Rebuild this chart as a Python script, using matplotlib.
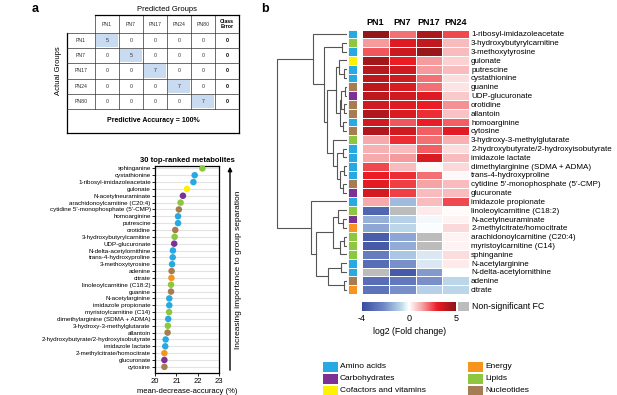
import numpy as np
import matplotlib
matplotlib.use("Agg")
import matplotlib.pyplot as plt
from matplotlib.colors import LinearSegmentedColormap

plt.rcParams['font.family'] = ['Liberation Sans', 'DejaVu Sans']

# ---------------- data ----------------
groups = ['PN1', 'PN7', 'PN17', 'PN24', 'PN80']
confusion = [[5, 0, 0, 0, 0],
             [0, 5, 0, 0, 0],
             [0, 0, 7, 0, 0],
             [0, 0, 0, 7, 0],
             [0, 0, 0, 0, 7]]
class_error = [0, 0, 0, 0, 0]
accuracy = 100

cat_colors = {'Amino acids': '#27aae1', 'Carbohydrates': '#7b3294',
              'Cofactors and vitamins': '#fff200', 'Energy': '#f7941d',
              'Lipids': '#8dc63f', 'Nucleotides': '#a67c52'}

category = {
    '1-ribosyl-imidazoleacetate': 'Amino acids', '3-hydroxybutyrylcarnitine': 'Lipids',
    '3-methoxytyrosine': 'Amino acids', 'gulonate': 'Cofactors and vitamins',
    'putrescine': 'Amino acids', 'cystathionine': 'Amino acids', 'guanine': 'Nucleotides',
    'UDP-glucuronate': 'Carbohydrates', 'orotidine': 'Nucleotides', 'allantoin': 'Nucleotides',
    'homoarginine': 'Amino acids', 'cytosine': 'Nucleotides',
    '3-hydroxy-3-methylglutarate': 'Lipids',
    '2-hydroxybutyrate/2-hydroxyisobutyrate': 'Amino acids',
    'imidazole lactate': 'Amino acids', 'dimethylarginine (SDMA + ADMA)': 'Amino acids',
    'trans-4-hydroxyproline': 'Amino acids',
    "cytidine 5'-monophosphate (5'-CMP)": 'Nucleotides', 'glucuronate': 'Carbohydrates',
    'imidazole propionate': 'Amino acids', 'linoleoylcarnitine (C18:2)': 'Lipids',
    'N-acetylneuraminate': 'Carbohydrates', '2-methylcitrate/homocitrate': 'Energy',
    'arachidonoylcarnitine (C20:4)': 'Lipids', 'myristoylcarnitine (C14)': 'Lipids',
    'sphinganine': 'Lipids', 'N-acetylarginine': 'Amino acids',
    'N-delta-acetylornithine': 'Amino acids', 'adenine': 'Nucleotides', 'citrate': 'Energy'}

# random forest ranking (mean decrease accuracy, %)
rank_names = ['sphinganine', 'cystathionine', '1-ribosyl-imidazoleacetate', 'gulonate',
              'N-acetylneuraminate', 'arachidonoylcarnitine (C20:4)',
              "cytidine 5'-monophosphate (5'-CMP)", 'homoarginine', 'putrescine', 'orotidine',
              '3-hydroxybutyrylcarnitine', 'UDP-glucuronate', 'N-delta-acetylornithine',
              'trans-4-hydroxyproline', '3-methoxytyrosine', 'adenine', 'citrate',
              'linoleoylcarnitine (C18:2)', 'guanine', 'N-acetylarginine',
              'imidazole propionate', 'myristoylcarnitine (C14)',
              'dimethylarginine (SDMA + ADMA)', '3-hydroxy-3-methylglutarate', 'allantoin',
              '2-hydroxybutyrate/2-hydroxyisobutyrate', 'imidazole lactate',
              '2-methylcitrate/homocitrate', 'glucuronate', 'cytosine']
mda = [22.22, 21.86, 21.80, 21.50, 21.31, 21.20, 21.12, 21.08, 21.08, 20.95,
       20.92, 20.90, 20.84, 20.83, 20.80, 20.78, 20.77, 20.75, 20.75, 20.67,
       20.67, 20.66, 20.62, 20.60, 20.59, 20.50, 20.48, 20.44, 20.44, 20.44]

# heatmap (log2 fold change vs PN80, nan = non-significant)
hm_cols = ['PN1', 'PN7', 'PN17', 'PN24']
hm_rows = ['1-ribosyl-imidazoleacetate', '3-hydroxybutyrylcarnitine', '3-methoxytyrosine',
           'gulonate', 'putrescine', 'cystathionine', 'guanine', 'UDP-glucuronate',
           'orotidine', 'allantoin', 'homoarginine', 'cytosine',
           '3-hydroxy-3-methylglutarate', '2-hydroxybutyrate/2-hydroxyisobutyrate',
           'imidazole lactate', 'dimethylarginine (SDMA + ADMA)', 'trans-4-hydroxyproline',
           "cytidine 5'-monophosphate (5'-CMP)", 'glucuronate', 'imidazole propionate',
           'linoleoylcarnitine (C18:2)', 'N-acetylneuraminate', '2-methylcitrate/homocitrate',
           'arachidonoylcarnitine (C20:4)', 'myristoylcarnitine (C14)', 'sphinganine',
           'N-acetylarginine', 'N-delta-acetylornithine', 'adenine', 'citrate']
nan = np.nan
fc = [[4.8, 2.0, 4.3, 2.5],
      [1.5, 3.3, 3.9, 1.0],
      [2.3, 3.7, 4.7, 1.0],
      [4.5, 3.0, 1.5, 0.7],
      [4.1, 3.6, 1.5, 1.0],
      [4.0, 3.6, 2.0, 0.5],
      [4.0, 3.4, 2.0, 0.4],
      [4.0, 3.6, 3.3, 0.8],
      [3.6, 3.3, 3.0, 1.6],
      [4.2, 3.4, 2.8, 0.9],
      [3.6, 2.3, 3.0, 2.2],
      [4.2, 3.6, 2.2, 3.2],
      [1.3, 2.8, 2.0, 1.2],
      [1.2, 1.0, 2.2, 0.5],
      [1.3, 1.5, 3.4, 1.0],
      [2.5, 1.0, 0.1, 0.6],
      [3.0, 2.8, 2.0, 0.1],
      [3.2, 2.6, 1.4, 1.0],
      [3.5, 2.6, 1.0, 1.0],
      [1.3, -1.2, 1.0, 2.5],
      [-3.2, nan, 0.3, 0.05],
      [-1.4, -0.8, -0.1, 0.2],
      [-1.6, -0.7, -0.05, 0.6],
      [-3.5, -1.6, nan, 0.2],
      [-3.6, -1.5, nan, 0.2],
      [-2.5, -1.0, -0.4, 0.5],
      [-3.0, -2.0, -0.4, 0.3],
      [nan, -3.6, -1.8, 0.0],
      [-3.0, -2.6, -2.0, -0.7],
      [-2.8, -2.0, -0.8, -0.7]]

# row dendrogram: [left, right, merge height], leaves = row index
tree = [[0, [[1, 2, 5],
             [[[3, [4, 5, 3], 8], [[[6, 7, 2], [8, 9, 3], 6], [10, 11, 4], 7.5], 11],
              [12, [[13, 14, 4], [[15, 16, 3], [17, 18, 4], 7], 10], 14], 20], 23], 34],
        [19, [[[20, [21, 22, 4], 9], [[23, 24, 3], 25, 7], 14],
              [[26, 27, 6], [28, 29, 3], 19], 31], 36], 70]

# ---------------- figure ----------------
W, H = 617, 395
fig = plt.figure(figsize=(W / 100, H / 100), dpi=100)


def px(x0, y0, x1, y1):
    return [x0 / W, 1 - y1 / H, (x1 - x0) / W, (y1 - y0) / H]


ov = fig.add_axes([0, 0, 1, 1])
ov.set_xlim(0, W)
ov.set_ylim(H, 0)
ov.axis('off')

ov.text(35, 9, 'a', fontsize=9, fontweight='bold', ha='center', va='center')
ov.text(265, 9, 'b', fontsize=9, fontweight='bold', ha='center', va='center')

# ---- confusion table ----
tx0, lab_w, cw = 67, 28, 24
ty0, head_h, rh, acc_h = 15, 18, 15.2, 24
col_x = [tx0 + lab_w + i * cw for i in range(len(groups) + 2)]
row_y = [ty0 + head_h + i * rh for i in range(len(groups) + 1)]
tx1 = col_x[-1]
ty1 = row_y[-1] + acc_h

ov.text((col_x[0] + tx1) / 2, 9.5, 'Predicted Groups', fontsize=5.5, ha='center', va='center')
ov.text(59, (row_y[0] + row_y[-1]) / 2, 'Actual Groups', fontsize=5.5, rotation=90,
        ha='center', va='center')

for i in range(len(groups)):
    ov.add_patch(plt.Rectangle((col_x[i] + 1, row_y[i] + 1), cw - 2, rh - 2,
                               facecolor='#c9dbf1', edgecolor='none'))
lc = '#333333'
for x in col_x:
    ov.plot([x, x], [ty0, row_y[-1]], color=lc, lw=0.5)
ov.plot([tx0, tx0], [row_y[0], ty1], color='k', lw=0.9)
ov.plot([tx1, tx1], [ty0, ty1], color='k', lw=0.9)
ov.plot([col_x[0], tx1], [ty0, ty0], color='k', lw=0.9)
ov.plot([tx0, tx1], [ty1, ty1], color='k', lw=0.9)
for y in row_y:
    ov.plot([tx0, tx1], [y, y], color=lc, lw=0.5)

for j, g in enumerate(groups):
    ov.text(col_x[j] + cw / 2, ty0 + head_h / 2, g, fontsize=3.8, ha='center', va='center',
            color='#333333')
ov.text(col_x[-2] + cw / 2, ty0 + head_h / 2, 'Class\nError', fontsize=3.8,
        fontweight='bold', ha='center', va='center', linespacing=1.0)
for i, g in enumerate(groups):
    yc = row_y[i] + rh / 2
    ov.text(tx0 + lab_w / 2, yc, g, fontsize=3.8, ha='center', va='center', color='#333333')
    for j, v in enumerate(confusion[i]):
        ov.text(col_x[j] + cw / 2, yc, str(v), fontsize=3.8, ha='center', va='center',
                color='#333333')
    ov.text(col_x[-2] + cw / 2, yc, str(class_error[i]), fontsize=3.8, fontweight='bold',
            ha='center', va='center')
ov.text((tx0 + tx1) / 2, row_y[-1] + acc_h / 2, 'Predictive Accuracy = %d%%' % accuracy,
        fontsize=5, fontweight='bold', ha='center', va='center')

# ---- dot plot ----
ax = fig.add_axes(px(155, 166, 219, 373))
ypos = np.arange(len(rank_names))
for y in ypos:
    ax.axhline(y, color='#e3e3e3', lw=0.8, zorder=0)
ax.scatter(mda, ypos, s=22, c=[cat_colors[category[n]] for n in rank_names],
           edgecolors='none', zorder=3, clip_on=False)
ax.set_ylim(len(rank_names) - 0.1, -0.35)
ax.set_xlim(20, 23)
ax.set_xticks([20, 21, 22, 23])
ax.set_yticks(ypos)
ax.set_yticklabels(rank_names, fontsize=4.5)
ax.tick_params(axis='x', labelsize=5.5, length=2, width=0.6, pad=1.5)
ax.tick_params(axis='y', length=2, width=0.6, pad=1)
for s in ax.spines.values():
    s.set_linewidth(0.9)
ax.set_title('30 top-ranked metabolites', fontsize=5.5, fontweight='bold', pad=3)
ax.set_xlabel('mean-decrease-accuracy (%)', fontsize=5.5, labelpad=2)

ov.annotate('', xy=(230, 164), xytext=(230, 373),
            arrowprops=dict(arrowstyle='-|>', color='k', lw=1.0, mutation_scale=6))
ov.text(238.5, 270, 'Increasing importance to group separation', fontsize=6, rotation=90,
        ha='center', va='center')

# ---- heatmap ----
hy0, hy1 = 29.5, 294
nrows = len(hm_rows)

cmap = LinearSegmentedColormap.from_list('fc', [
    (0.0, '#3a4ea1'), (0.2, '#6f86c6'), (0.36, '#b7d3e8'), (0.444, '#ffffff'),
    (0.6, '#f6a3a5'), (0.78, '#ec1c24'), (1.0, '#8a1619')])
cmap.set_bad('#bcbcbc')
lin_norm = plt.Normalize(-4, 5)

hm = fig.add_axes(px(362, hy0, 469, hy1))
data = np.ma.masked_invalid(np.array(fc))
hm.pcolormesh(np.arange(len(hm_cols) + 1), np.arange(nrows + 1), data, cmap=cmap,
              norm=lin_norm, edgecolors='white', linewidth=0.5)
hm.set_xlim(0, len(hm_cols))
hm.set_ylim(nrows, 0)
hm.set_xticks(np.arange(len(hm_cols)) + 0.5)
hm.set_xticklabels(hm_cols, fontsize=6.5, fontweight='bold')
hm.xaxis.tick_top()
hm.set_yticks(np.arange(nrows) + 0.5)
hm.set_yticklabels(hm_rows, fontsize=5.75)
hm.yaxis.tick_right()
hm.tick_params(length=0, pad=1.5)
for s in hm.spines.values():
    s.set_visible(False)

# category strip
cs = fig.add_axes(px(348, hy0, 357, hy1))
for i, n in enumerate(hm_rows):
    cs.add_patch(plt.Rectangle((0, i), 1, 1, facecolor=cat_colors[category[n]],
                               edgecolor='white', lw=0.6))
cs.set_xlim(0, 1)
cs.set_ylim(nrows, 0)
cs.axis('off')

# dendrogram
dn = fig.add_axes(px(276, hy0, 347, hy1))


def draw(node):
    if not isinstance(node, list):
        return node + 0.5, 0
    yl, hl = draw(node[0])
    yr, hr = draw(node[1])
    h = node[2]
    dn.plot([hl, h, h, hr], [yl, yl, yr, yr], color='#555555', lw=0.8,
            solid_joinstyle='miter')
    return (yl + yr) / 2, h


draw(tree)
dn.set_xlim(71, 0)
dn.set_ylim(nrows, 0)
dn.axis('off')

# colour bar
cb = fig.add_axes(px(362, 302, 456, 311))
grad = np.concatenate([np.linspace(-4, 0, 200), np.linspace(0, 5, 200)])
cb.imshow(grad[None, :], aspect='auto', cmap=cmap, norm=lin_norm,
          extent=[0, 1, 0, 1])
cb.set_xticks([0, 0.5, 1])
cb.set_xticklabels(['-4', '0', '5'], fontsize=6.5)
cb.set_yticks([])
cb.tick_params(axis='x', length=0, pad=2)
for s in cb.spines.values():
    s.set_visible(False)
ov.add_patch(plt.Rectangle((458, 302), 11, 9, facecolor='#bcbcbc', edgecolor='none'))
ov.text(472, 306.5, 'Non-significant FC', fontsize=6.3, va='center', ha='left')
ov.text(410, 331, 'log2 (Fold change)', fontsize=6.3, va='center', ha='center')

# category legend
leg = [('Amino acids', 323, 367), ('Carbohydrates', 323, 379),
       ('Cofactors and vitamins', 323, 391), ('Energy', 468, 367),
       ('Lipids', 468, 379), ('Nucleotides', 468, 391)]
for name, lx, ly in leg:
    ov.add_patch(plt.Rectangle((lx, ly - 4.6), 15, 9.2, facecolor=cat_colors[name],
                               edgecolor='none'))
    ov.text(lx + 17, ly, name, fontsize=6, va='center', ha='left')

fig.savefig('out.png', dpi=100)
